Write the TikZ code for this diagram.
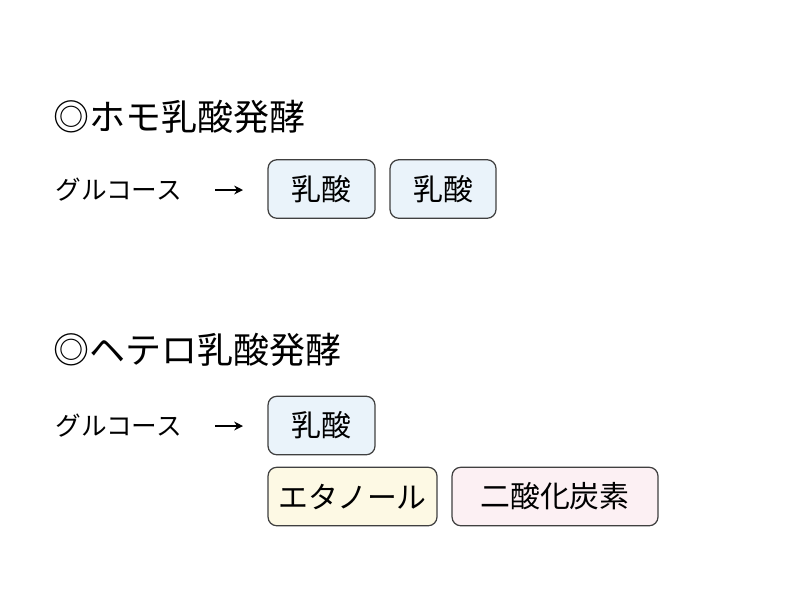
\documentclass[tikz,border=0pt]{standalone}
\usetikzlibrary{arrows.meta}
\usepackage{fontspec}
\setmainfont{Noto Sans CJK JP}
\newfontfamily\jp{Noto Sans CJK JP}
\definecolor{bblue}{HTML}{EAF3FA}
\definecolor{byel}{HTML}{FDF9E4}
\definecolor{bpink}{HTML}{FCF0F3}
\definecolor{bord}{HTML}{404040}
\begin{document}
\begin{tikzpicture}[x=0.02cm,y=-0.02cm,
  box/.style={draw=bord,line width=0.7pt,rounded corners=5pt,inner sep=0pt,minimum height=1.17cm,font=\fontsize{17}{19}\selectfont\jp},
  head/.style={anchor=west,inner sep=0pt,font=\fontsize{20.5}{23}\selectfont\jp},
  lab/.style={anchor=west,inner sep=0pt,font=\fontsize{14.6}{17}\selectfont\jp},
  arr/.style={-{Stealth[length=5pt,width=5pt]},line width=1.2pt}]
\fill[white] (0,0) rectangle (800,599);
\node[head] (h1) at (53,117) {◎ホモ乳酸発酵};
\node[lab] (g1) at (55,190) {グルコース};
\coordinate (a1s) at (215,190); \coordinate (a1e) at (243,190);
\draw[arr] (a1s) -- (a1e);
\node[box,fill=bblue,minimum width=2.14cm] (b1) at (321.5,189) {乳酸};
\node[box,fill=bblue,minimum width=2.12cm] (b2) at (443,189) {乳酸};
\node[head] (h2) at (53,350) {◎ヘテロ乳酸発酵};
\node[lab] (g2) at (55,426) {グルコース};
\coordinate (a2s) at (215,426); \coordinate (a2e) at (243,426);
\draw[arr] (a2s) -- (a2e);
\node[box,fill=bblue,minimum width=2.14cm] (b3) at (321.5,425.5) {乳酸};
\node[box,fill=byel,minimum width=3.38cm] (b4) at (352.5,496.5) {エタノール};
\node[box,fill=bpink,minimum width=4.12cm] (b5) at (555,496.5) {二酸化炭素};
\end{tikzpicture}
\end{document}
